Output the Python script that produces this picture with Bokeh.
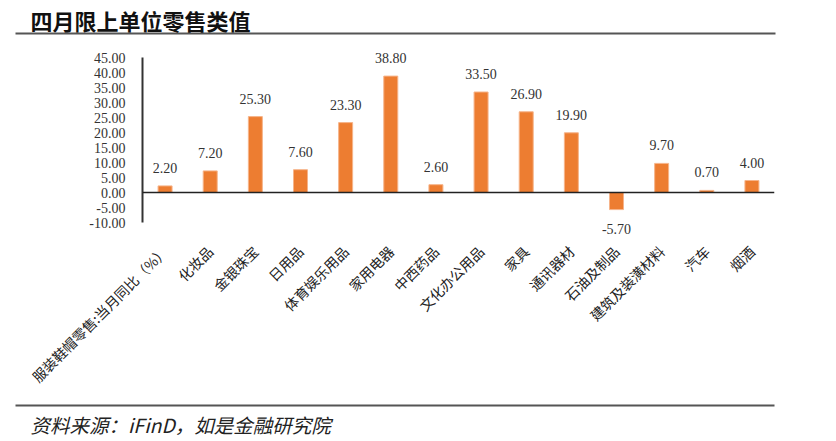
import math
from bokeh.plotting import figure
from bokeh.layouts import column
from bokeh.models import (ColumnDataSource, LabelSet, Span, Range1d, FactorRange,
                          SingleIntervalTicker, NumeralTickFormatter)
from bokeh.core.properties import value
from bokeh.embed import file_html
from bokeh.resources import INLINE

title_text = "四月限上单位零售类值"
source_text = "资料来源：iFinD，如是金融研究院"

categories = ["服装鞋帽零售:当月同比（%）", "化妆品", "金银珠宝", "日用品", "体育娱乐用品",
              "家用电器", "中西药品", "文化办公用品", "家具", "通讯器材", "石油及制品",
              "建筑及装潢材料", "汽车", "烟酒"]
values = [2.20, 7.20, 25.30, 7.60, 23.30, 38.80, 2.60, 33.50, 26.90, 19.90, -5.70, 9.70, 0.70, 4.00]
y_min, y_max, y_step = -10, 45, 5

BAR = "#ED7D31"
SERIF = "Liberation Serif"
CJK = "Noto Sans CJK SC"
W = 834


def blank(h):
    f = figure(width=W, height=h, output_backend="svg", toolbar_location=None,
               x_range=Range1d(0, W), y_range=Range1d(h, 0),
               x_axis_location=None, y_axis_location=None,
               min_border=0, min_border_left=0, min_border_right=0,
               min_border_top=0, min_border_bottom=0, frame_align=False)
    f.outline_line_color = None
    f.xgrid.visible = False
    f.ygrid.visible = False
    return f


# ---- header ----
top = blank(42)
top.text(x=[30], y=[19], text=[title_text], text_font=value(CJK), text_font_size="22px",
         text_font_style="bold", text_color="#111111", text_baseline="middle", text_align="left")
top.segment(x0=[15], y0=[33], x1=[775], y1=[33], line_color="#555555", line_width=2)

# ---- main chart ----
p = figure(frame_width=632, frame_height=192, output_backend="svg", toolbar_location=None,
           x_range=FactorRange(*categories, range_padding=0),
           y_range=Range1d(-16, 48), frame_align=False,
           min_border_left=142, min_border_right=W - 774, min_border_top=6, min_border_bottom=152)
p.outline_line_color = None
p.xgrid.visible = False
p.ygrid.visible = False

src = ColumnDataSource(dict(cat=categories, val=values))
p.vbar(x="cat", top="val", bottom=0, width=0.31, source=src,
       fill_color=BAR, line_color="#F6B48A", line_width=1)

p.add_layout(Span(location=0, dimension="width", line_color="#222222", line_width=1.5))

ya = p.yaxis[0]
ya.ticker = SingleIntervalTicker(interval=y_step)
ya.bounds = (y_min, y_max)
ya.formatter = NumeralTickFormatter(format="0.00")
ya.major_tick_line_color = None
ya.minor_tick_line_color = None
ya.major_tick_out = 0
ya.axis_line_color = "#333333"
ya.axis_line_width = 2
ya.major_label_standoff = 13
ya.major_label_text_font = SERIF
ya.major_label_text_font_size = "14px"
ya.major_label_text_color = "#333333"

xa = p.xaxis[0]
xa.axis_line_color = None
xa.major_tick_line_color = None
xa.minor_tick_line_color = None
xa.major_tick_out = 0
xa.major_label_orientation = math.pi / 4
xa.major_label_standoff = 8
xa.major_label_text_font = CJK
xa.major_label_text_font_size = "14px"
xa.major_label_text_color = "#222222"

pos = [(c, v, f"{v:.2f}") for c, v in zip(categories, values) if v >= 0]
neg = [(c, v, f"{v:.2f}") for c, v in zip(categories, values) if v < 0]
for rows, off in ((pos, 13), (neg, -24)):
    s = ColumnDataSource(dict(cat=[r[0] for r in rows], val=[r[1] for r in rows],
                              lab=[r[2] for r in rows]))
    p.add_layout(LabelSet(x="cat", y="val", text="lab", source=s, y_offset=off,
                          text_align="center", text_baseline="alphabetic",
                          text_font=SERIF, text_font_size="14px", text_color="#333333"))

# ---- footer ----
bot = blank(48)
bot.segment(x0=[15], y0=[9], x1=[774], y1=[9], line_color="#555555", line_width=2)
bot.text(x=[30], y=[28], text=[source_text], text_font=value(CJK), text_font_size="19.5px",
         text_font_style="italic", text_color="#222222", text_baseline="middle", text_align="left")

layout = column(top, p, bot, spacing=0)
open("out.html", "w").write(file_html(layout, INLINE))
